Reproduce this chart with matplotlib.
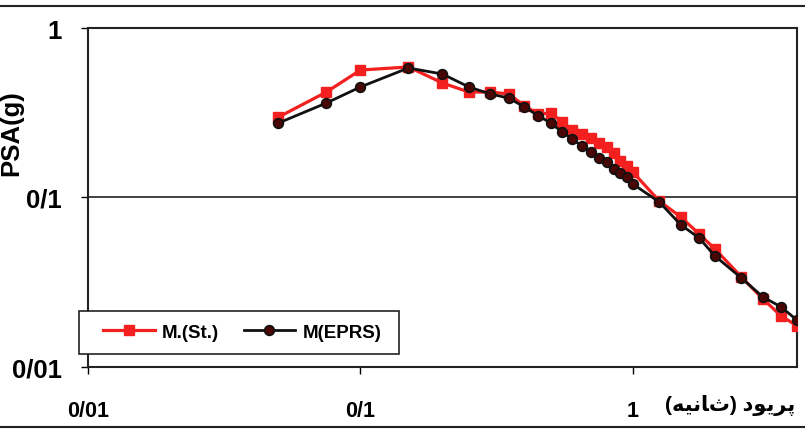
import matplotlib
matplotlib.use("Agg")
import matplotlib.pyplot as plt
from matplotlib.lines import Line2D
from matplotlib.patches import Rectangle

# periods (s)
period = [0.05, 0.075, 0.1, 0.15, 0.2, 0.25, 0.3, 0.35, 0.4, 0.45, 0.5, 0.55,
          0.6, 0.65, 0.7, 0.75, 0.8, 0.85, 0.9, 0.95, 1.0, 1.25, 1.5, 1.75,
          2.0, 2.5, 3.0, 3.5, 4.0]

psa_st = [0.298, 0.419, 0.565, 0.589, 0.474, 0.419, 0.419, 0.408, 0.347, 0.311,
          0.315, 0.279, 0.250, 0.237, 0.224, 0.210, 0.199, 0.183, 0.164, 0.153,
          0.141, 0.0953, 0.0767, 0.0609, 0.0497, 0.034, 0.0252, 0.020, 0.0175]

psa_eprs = [0.275, 0.361, 0.449, 0.581, 0.535, 0.449, 0.408, 0.386, 0.342, 0.303,
            0.275, 0.243, 0.221, 0.201, 0.185, 0.171, 0.162, 0.147, 0.140, 0.132,
            0.120, 0.094, 0.0689, 0.0577, 0.0452, 0.0335, 0.0259, 0.0226, 0.0189]

x_ticks = [0.01, 0.1, 1]
x_tick_labels = ["0/01", "0/1", "1"]
y_ticks = [0.01, 0.1, 1]
y_tick_labels = ["0/01", "0/1", "1"]

# "پریود (ثانیه)" pre-shaped, visual order
x_label = "(\ufeea\ufbff\ufee7\ufe8e\ufe99) \ufea9\ufeee\ufbfe\ufeae\ufb58"

FONT = ["Liberation Sans", "DejaVu Sans"]
plt.rcParams["font.family"] = FONT
plt.rcParams["font.weight"] = "bold"

RED = "#f42020"
DARK = "#111111"

fig = plt.figure(figsize=(8.05, 4.31), dpi=100)
ax = fig.add_axes([0.1093, 0.1462, 0.990 - 0.1093, 0.9327 - 0.1462])

ax.plot(period, psa_st, color=RED, lw=2.3, marker="s", ms=7,
        mfc=RED, mec=RED, label="M.(St.)", zorder=3)
ax.plot(period, psa_eprs, color=DARK, lw=2.0, marker="o", ms=7,
        mfc="#4a0505", mec="#111111", mew=1.2, label="M(EPRS)", zorder=4)

ax.set_xscale("log")
ax.set_yscale("log")
ax.set_xlim(0.01, 4.0)
ax.set_ylim(0.01, 1)

ax.set_xticks(x_ticks)
ax.set_xticklabels(x_tick_labels)
ax.set_yticks(y_ticks)
ax.set_yticklabels(y_tick_labels)
ax.minorticks_off()
ax.tick_params(axis="x", length=5, width=1, pad=19, labelsize=15.5)
ax.tick_params(axis="y", length=5, width=1, pad=14, labelsize=18.5)

ax.yaxis.grid(True, color="#222222", lw=1.2)
for s in ax.spines.values():
    s.set_linewidth(1.5)
    s.set_color("#222222")

fig.text(11 / 805, 1 - 133 / 431, "PSA(g)", rotation=90, ha="center",
         va="center", fontsize=18.5, fontweight="bold")

fig.text(0.988, 1 - 406 / 431, x_label, ha="right", va="center",
         fontsize=15, fontweight="bold", family=FONT)

# legend box drawn separately so its side padding can differ from the top/bottom
ax.add_patch(Rectangle((-0.0127, 0.0383), 0.4513, 0.1268, transform=ax.transAxes,
                       facecolor="white", edgecolor="#222222", lw=1.2,
                       clip_on=False, zorder=5))
leg = ax.legend(loc="center left", bbox_to_anchor=(0.0212, 0.1018), ncol=2,
                frameon=False, borderaxespad=0, borderpad=0,
                handlelength=2.75, handletextpad=0.4, columnspacing=1.3,
                prop={"weight": "bold", "size": 13.5})
leg.set_zorder(6)

# outer frame lines
fig.add_artist(Line2D([0, 1], [1 - 7 / 431, 1 - 7 / 431], color="#222222", lw=1.5))
fig.add_artist(Line2D([0, 1], [1 - 428 / 431, 1 - 428 / 431], color="#222222", lw=1.5))

fig.savefig("out.png", dpi=100)
